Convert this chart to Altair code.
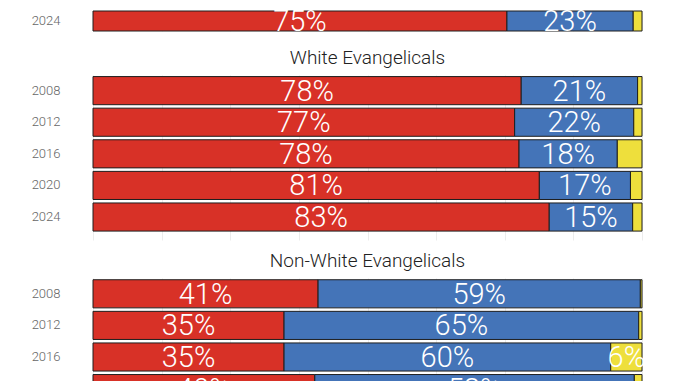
import altair as alt
import pandas as pd

years = ["2008", "2012", "2016", "2020", "2024"]
parties = ["Republican", "Democrat", "Other"]
colors = ["#d83127", "#4474b8", "#eedf3c"]

# partial top group (only its 2024 row is visible)
top_years = ["2024"]
top_rep = [75.4]
top_dem = [23.0]
top_oth = [1.6]

white_rep = [78.0, 76.8, 77.6, 81.3, 83.1]
white_dem = [21.2, 21.7, 17.9, 16.6, 15.2]
white_oth = [0.8, 1.5, 4.5, 2.1, 1.7]

nonwhite_years = ["2008", "2012", "2016", "2020"]
nonwhite_rep = [41.0, 34.8, 34.8, 40.4]
nonwhite_dem = [58.7, 64.6, 59.5, 58.2]
nonwhite_oth = [0.3, 0.6, 5.7, 1.4]

grid_values = [0, 12.5, 25, 37.5, 50, 62.5, 75, 87.5, 100]


def frame(yrs, rep, dem, oth):
    rows = []
    for i, y in enumerate(yrs):
        start = 0.0
        for p, v in zip(parties, [rep[i], dem[i], oth[i]]):
            rows.append({"year": y, "party": p, "value": v,
                         "start": start, "end": start + v,
                         "mid": start + v / 2,
                         "label": f"{round(v)}%" if v >= 5 else ""})
            start += v
    return pd.DataFrame(rows)


def panel(df, domain, h, title=None, pad_inner=0.11, pad_outer=0.055, align=0.5):
    yscale = alt.Scale(domain=domain, paddingInner=pad_inner,
                       paddingOuter=pad_outer, align=align)
    xscale = alt.Scale(domain=[0, 100], nice=False, zero=True)
    base = alt.Chart(df)
    bars = base.mark_bar(stroke="#1e1e1e", strokeWidth=1).encode(
        x=alt.X("start:Q", scale=xscale,
                axis=alt.Axis(values=grid_values, grid=True, gridColor="#ececec",
                              labels=False, ticks=False, domain=False, title=None)),
        x2="end:Q",
        y=alt.Y("year:N", scale=yscale, sort=domain,
                axis=alt.Axis(title=None, ticks=False, domain=False,
                              labelPadding=33, minExtent=85,
                              labelFont="Roboto", labelFontSize=13,
                              labelColor="#666", labelFontWeight=300)),
        color=alt.Color("party:N", scale=alt.Scale(domain=parties, range=colors),
                        legend=None),
    )
    text = base.mark_text(color="white", font="Roboto", fontSize=29,
                          fontWeight=300, baseline="middle", dy=1).encode(
        x=alt.X("mid:Q", scale=xscale),
        y=alt.Y("year:N", scale=yscale, sort=domain),
        text="label:N",
    )
    props = dict(width=549, height=h)
    if title:
        props["title"] = alt.TitleParams(title, font="Roboto", fontSize=19,
                                         fontWeight=300, color="#222", offset=7)
    return alt.layer(bars, text).properties(**props)


top = panel(frame(top_years, top_rep, top_dem, top_oth), ["2024"], 20,
            pad_inner=0, pad_outer=0, align=0)
white = panel(frame(years, white_rep, white_dem, white_oth), years, 165,
              title="White Evangelicals", pad_outer=0.166, align=0.15)
nonwhite = panel(frame(nonwhite_years, nonwhite_rep, nonwhite_dem, nonwhite_oth),
                 years, 158, title="Non-White Evangelicals")

chart = alt.vconcat(top, white, nonwhite, spacing=12).properties(
    padding=0
).configure_view(stroke=None)

chart.save("out.html", embed_options={"renderer": "svg", "actions": False})
